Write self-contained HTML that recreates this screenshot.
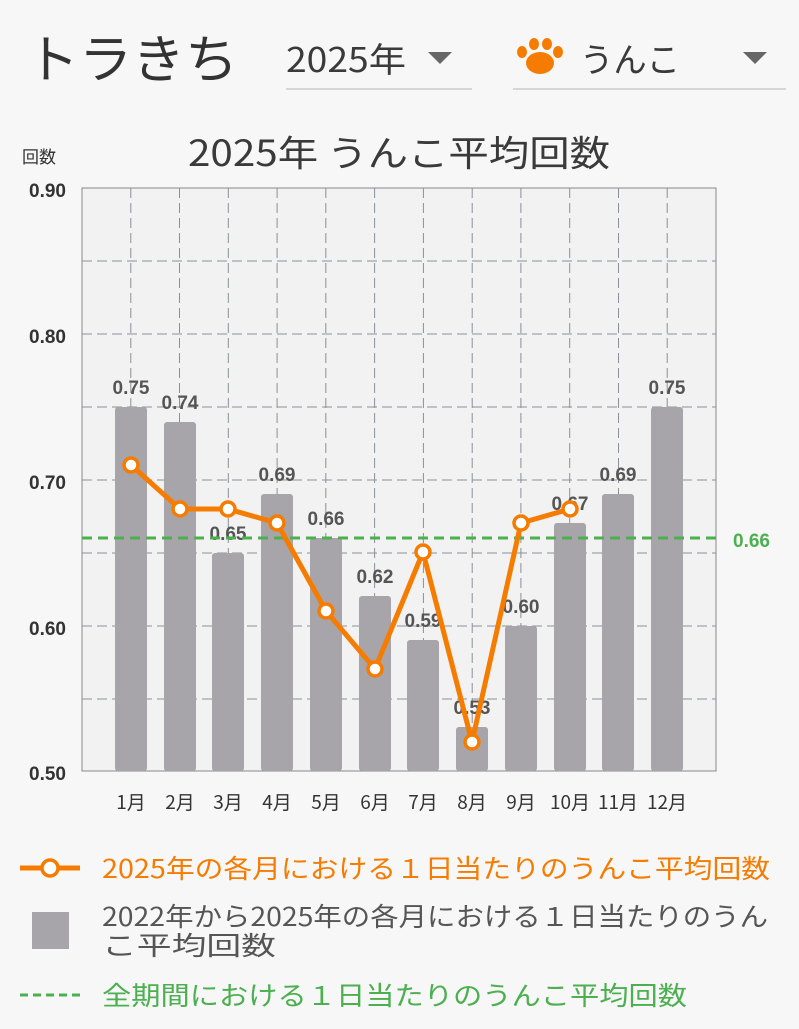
<!DOCTYPE html><html><head><meta charset="utf-8"><style>
body{margin:0;width:799px;height:1024px;background:#f7f7f7;overflow:hidden;font-family:"Liberation Sans","Noto Sans CJK JP",sans-serif}
</style></head><body>
<svg width="799" height="1024" xmlns="http://www.w3.org/2000/svg" font-family="Liberation Sans, Noto Sans CJK JP, sans-serif">
<text x="26" y="78" font-size="52" fill="#333" font-family="Noto Sans CJK JP, sans-serif" textLength="212" lengthAdjust="spacingAndGlyphs">トラきち</text>
<text x="286" y="72" font-size="34" fill="#3a3a3a" font-family="Noto Sans CJK JP, sans-serif" textLength="120" lengthAdjust="spacingAndGlyphs">2025年</text>
<polygon points="428,52 452,52 440,64" fill="#666"/>
<line x1="286" y1="89" x2="472" y2="89" stroke="#ccc" stroke-width="1.5"/>
<g fill="#f57c00"><ellipse cx="540" cy="63" rx="14" ry="11"/><ellipse cx="522" cy="52" rx="5" ry="6"/><ellipse cx="534" cy="44" rx="5" ry="6"/><ellipse cx="547" cy="44" rx="5" ry="6"/><ellipse cx="558" cy="52" rx="5" ry="6"/></g>
<text x="580" y="72" font-size="34" fill="#3a3a3a" font-family="Noto Sans CJK JP, sans-serif" textLength="100" lengthAdjust="spacingAndGlyphs">うんこ</text>
<polygon points="743,52 767,52 755,64" fill="#666"/>
<line x1="513" y1="89" x2="786" y2="89" stroke="#ccc" stroke-width="1.5"/>
<text x="188" y="166" font-size="36" fill="#3a3a3a" font-family="Noto Sans CJK JP, sans-serif" textLength="422" lengthAdjust="spacingAndGlyphs">2025年 うんこ平均回数</text>
<text x="22" y="163" font-size="17" fill="#333" font-family="Noto Sans CJK JP, sans-serif">回数</text>
<rect x="82" y="188" width="634" height="583" fill="#f2f2f2" stroke="#888" stroke-width="1"/>
<g stroke="#8a9099" stroke-width="1" stroke-dasharray="10,5">
<line x1="82" y1="261" x2="716" y2="261"/><line x1="82" y1="334" x2="716" y2="334"/><line x1="82" y1="407" x2="716" y2="407"/><line x1="82" y1="480" x2="716" y2="480"/><line x1="82" y1="553" x2="716" y2="553"/><line x1="82" y1="626" x2="716" y2="626"/><line x1="82" y1="699" x2="716" y2="699"/>
<line x1="130.8" y1="188" x2="130.8" y2="771"/><line x1="179.5" y1="188" x2="179.5" y2="771"/><line x1="228.3" y1="188" x2="228.3" y2="771"/><line x1="277.1" y1="188" x2="277.1" y2="771"/><line x1="325.8" y1="188" x2="325.8" y2="771"/><line x1="374.6" y1="188" x2="374.6" y2="771"/><line x1="423.4" y1="188" x2="423.4" y2="771"/><line x1="472.2" y1="188" x2="472.2" y2="771"/><line x1="520.9" y1="188" x2="520.9" y2="771"/><line x1="569.7" y1="188" x2="569.7" y2="771"/><line x1="618.5" y1="188" x2="618.5" y2="771"/><line x1="667.2" y1="188" x2="667.2" y2="771"/>
</g>
<g fill="#333" font-size="19" font-weight="bold" text-anchor="end">
<text x="66" y="197">0.90</text><text x="66" y="343">0.80</text><text x="66" y="489">0.70</text><text x="66" y="635">0.60</text><text x="66" y="780">0.50</text></g>
<g fill="#a8a5aa">
<rect x="115" y="407" width="32" height="364" rx="3"/><rect x="164" y="422" width="32" height="349" rx="3"/><rect x="212" y="553" width="32" height="218" rx="3"/><rect x="261" y="494" width="32" height="277" rx="3"/><rect x="310" y="538" width="32" height="233" rx="3"/><rect x="359" y="596" width="32" height="175" rx="3"/><rect x="407" y="640" width="32" height="131" rx="3"/><rect x="456" y="727" width="32" height="44" rx="3"/><rect x="505" y="626" width="32" height="145" rx="3"/><rect x="554" y="523" width="32" height="248" rx="3"/><rect x="602" y="494" width="32" height="277" rx="3"/><rect x="651" y="407" width="32" height="364" rx="3"/></g>
<g fill="#555" font-size="19" font-weight="bold" text-anchor="middle">
<text x="131" y="394">0.75</text><text x="180" y="409">0.74</text><text x="228" y="540">0.65</text><text x="277" y="481">0.69</text><text x="326" y="525">0.66</text><text x="375" y="583">0.62</text><text x="423" y="627">0.59</text><text x="472" y="714">0.53</text><text x="521" y="613">0.60</text><text x="570" y="510">0.67</text><text x="618" y="481">0.69</text><text x="667" y="394">0.75</text></g>
<line x1="82" y1="538" x2="716" y2="538" stroke="#4caf50" stroke-width="3" stroke-dasharray="10,6"/>
<text x="733" y="547" font-size="19" font-weight="bold" fill="#4caf50">0.66</text>
<polyline points="131,465 180,509 228,509 277,523 326,611 375,669 423,552 472,742 521,523 570,509" fill="none" stroke="#f57c00" stroke-width="5" stroke-linejoin="round"/>
<g fill="#fff" stroke="#f57c00" stroke-width="3.5">
<circle cx="131" cy="465" r="7"/><circle cx="180" cy="509" r="7"/><circle cx="228" cy="509" r="7"/><circle cx="277" cy="523" r="7"/><circle cx="326" cy="611" r="7"/><circle cx="375" cy="669" r="7"/><circle cx="423" cy="552" r="7"/><circle cx="472" cy="742" r="7"/><circle cx="521" cy="523" r="7"/><circle cx="570" cy="509" r="7"/></g>
<g fill="#333" font-size="19" text-anchor="middle" font-family="Noto Sans CJK JP, sans-serif">
<text x="131" y="809">1月</text><text x="180" y="809">2月</text><text x="228" y="809">3月</text><text x="277" y="809">4月</text><text x="326" y="809">5月</text><text x="375" y="809">6月</text><text x="423" y="809">7月</text><text x="472" y="809">8月</text><text x="521" y="809">9月</text><text x="570" y="809">10月</text><text x="618" y="809">11月</text><text x="667" y="809">12月</text></g>
<line x1="20" y1="868" x2="80" y2="868" stroke="#f57c00" stroke-width="5"/>
<circle cx="50" cy="868" r="8" fill="#fff" stroke="#f57c00" stroke-width="3.5"/>
<text x="102" y="878" font-size="26" fill="#f57c00" font-family="Noto Sans CJK JP, sans-serif" textLength="668" lengthAdjust="spacingAndGlyphs">2025年の各月における１日当たりのうんこ平均回数</text>
<rect x="32" y="912" width="37" height="37" fill="#a8a5aa"/>
<text x="102" y="926" font-size="26" fill="#555" font-family="Noto Sans CJK JP, sans-serif" textLength="666" lengthAdjust="spacingAndGlyphs">2022年から2025年の各月における１日当たりのうん</text>
<text x="102" y="955" font-size="26" fill="#555" font-family="Noto Sans CJK JP, sans-serif" textLength="174" lengthAdjust="spacingAndGlyphs">こ平均回数</text>
<line x1="20" y1="995" x2="80" y2="995" stroke="#4caf50" stroke-width="3" stroke-dasharray="8,5"/>
<text x="102" y="1005" font-size="26" fill="#4caf50" font-family="Noto Sans CJK JP, sans-serif" textLength="585" lengthAdjust="spacingAndGlyphs">全期間における１日当たりのうんこ平均回数</text>
</svg></body></html>
